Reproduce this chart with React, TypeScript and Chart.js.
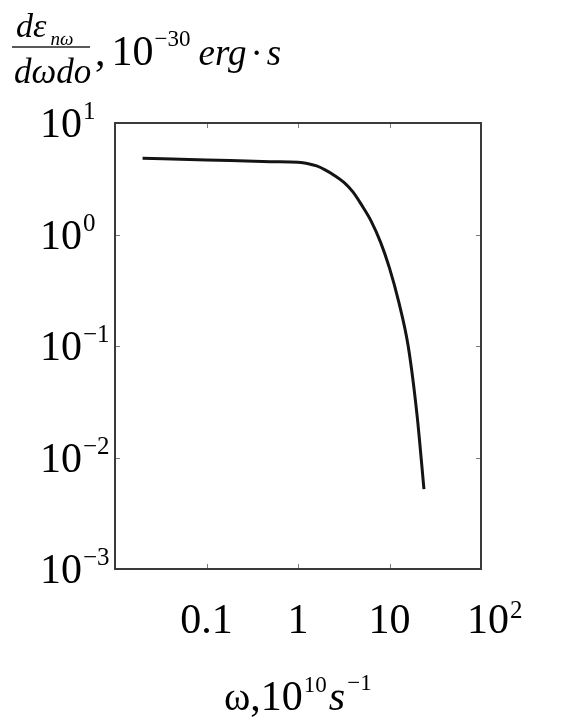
import React, { useEffect, useRef } from "react";
import { Chart, registerables } from "chart.js";

Chart.register(...registerables);

// Frequency ω, 10^10 s^-1
const omega = [0.02, 0.1, 0.5, 1, 1.26, 1.6, 2, 2.5, 3.2, 4, 5, 6.3, 8, 10, 12.6, 16, 20, 23.8];
// dε/dωdo, 10^-30 erg·s
const emission = [4.82, 4.66, 4.5, 4.44, 4.34, 4.12, 3.78, 3.39, 2.92, 2.4, 1.82, 1.32, 0.85, 0.5, 0.25, 0.1, 0.024, 0.0052];

const xTickValues = [0.1, 1, 10, 100];
const xTickBases = ["0.1", "1", "10", "10"];
const xTickExps = ["", "", "", "2"];

const yTickValues = [10, 1, 0.1, 0.01, 0.001];
const yTickBases = ["10", "10", "10", "10", "10"];
const yTickExps = ["1", "0", "\u22121", "\u22122", "\u22123"];

const SERIF = '"Liberation Serif", "Times New Roman", serif';
const F = (size: number, italic = false) => `${italic ? "italic " : ""}${size}px ${SERIF}`;

type Run = { text: string; font: string; dy?: number; gap?: number };

function drawRuns(ctx: CanvasRenderingContext2D, runs: Run[], x: number, baseline: number) {
  let cx = x;
  for (const r of runs) {
    cx += r.gap || 0;
    ctx.font = r.font;
    ctx.fillText(r.text, cx, baseline + (r.dy || 0));
    cx += ctx.measureText(r.text).width;
  }
}

const overlayPlugin = {
  id: "overlay",
  afterDraw(chart: any) {
    const ctx: CanvasRenderingContext2D = chart.ctx;
    const { left, right, top, bottom } = chart.chartArea;
    const xs = chart.scales.x;
    const ys = chart.scales.y;
    ctx.save();

    // inward tick marks on all four sides
    ctx.strokeStyle = "#7a7a7a";
    ctx.lineWidth = 1;
    ctx.beginPath();
    xTickValues.forEach((v) => {
      const px = Math.round(xs.getPixelForValue(v)) + 0.5;
      if (px > left + 3 && px < right - 3) {
        ctx.moveTo(px, bottom);
        ctx.lineTo(px, bottom - 5);
        ctx.moveTo(px, top);
        ctx.lineTo(px, top + 5);
      }
    });
    yTickValues.forEach((v) => {
      const py = Math.round(ys.getPixelForValue(v)) + 0.5;
      if (py > top + 3 && py < bottom - 3) {
        ctx.moveTo(left, py);
        ctx.lineTo(left + 5, py);
        ctx.moveTo(right, py);
        ctx.lineTo(right - 5, py);
      }
    });
    ctx.stroke();

    // frame
    ctx.strokeStyle = "#3a3a3a";
    ctx.lineWidth = 2;
    ctx.strokeRect(left, top, right - left, bottom - top);

    ctx.fillStyle = "#000";
    ctx.textBaseline = "alphabetic";
    ctx.textAlign = "left";

    // x tick labels
    xTickValues.forEach((v, i) => {
      const px = xs.getPixelForValue(v);
      const base = xTickBases[i];
      const exp = xTickExps[i];
      ctx.font = F(42);
      const bw = ctx.measureText(base).width;
      const bx = exp ? px + 7 - bw / 2 : px - bw / 2;
      drawRuns(ctx, [{ text: base, font: F(42) }, ...(exp ? [{ text: exp, font: F(25), dy: -15, gap: 1 }] : [])], bx, bottom + 64);
    });

    // y tick labels
    yTickValues.forEach((v, i) => {
      const py = ys.getPixelForValue(v);
      drawRuns(
        ctx,
        [
          { text: yTickBases[i], font: F(42) },
          { text: yTickExps[i], font: F(25), dy: -18, gap: 1 },
        ],
        left - 75,
        py + 14
      );
    });

    // x axis title: ω,10^10 s^-1
    drawRuns(
      ctx,
      [
        { text: "\u03C9", font: F(40) },
        { text: ",", font: F(42) },
        { text: "10", font: F(42) },
        { text: "10", font: F(23), dy: -18, gap: 1 },
        { text: "s", font: F(42, true), gap: 2 },
        { text: "\u22121", font: F(23), dy: -20, gap: 2 },
      ],
      left + 109,
      bottom + 141
    );

    // y axis title: fraction dε_nω / dωdo , 10^-30 erg·s
    const fx = 4;
    drawRuns(
      ctx,
      [
        { text: "d\u03B5", font: F(34, true) },
        { text: "n\u03C9", font: F(19, true), dy: 8, gap: 4 },
      ],
      fx + 4,
      29
    );
    ctx.strokeStyle = "#222";
    ctx.lineWidth = 1.5;
    ctx.beginPath();
    ctx.moveTo(fx, 39);
    ctx.lineTo(fx + 78, 39);
    ctx.stroke();
    drawRuns(ctx, [{ text: "d\u03C9do", font: F(35, true) }], fx + 2, 75);
    drawRuns(
      ctx,
      [
        { text: ",", font: F(42) },
        { text: "10", font: F(42), gap: 6 },
        { text: "\u221230", font: F(23), dy: -19, gap: 1 },
        { text: "erg", font: F(37, true), gap: 8 },
        { text: "\u00B7", font: F(37), gap: 4 },
        { text: "s", font: F(37, true), gap: 4 },
      ],
      fx + 83,
      57
    );

    ctx.restore();
  },
};

export default function App() {
  const canvasRef = useRef<HTMLCanvasElement | null>(null);

  useEffect(() => {
    const canvas = canvasRef.current;
    if (!canvas) return;
    const chart = new Chart(canvas, {
      type: "line",
      data: {
        datasets: [
          {
            data: omega.map((x, i) => ({ x, y: emission[i] })),
            borderColor: "#141414",
            borderWidth: 3,
            pointRadius: 0,
            fill: false,
            cubicInterpolationMode: "monotone",
          },
        ],
      },
      options: {
        responsive: false,
        animation: false,
        devicePixelRatio: 1,
        layout: { padding: { left: 107, right: 77, top: 115, bottom: 150 } },
        plugins: { legend: { display: false }, tooltip: { enabled: false } },
        scales: {
          x: { type: "logarithmic", min: 0.01, max: 100, display: false },
          y: { type: "logarithmic", min: 0.001, max: 10, display: false },
        },
      },
      plugins: [overlayPlugin],
    });
    return () => chart.destroy();
  }, []);

  return (
    <div style={{ width: 550, height: 711 }}>
      <canvas ref={canvasRef} width={550} height={711} />
    </div>
  );
}
